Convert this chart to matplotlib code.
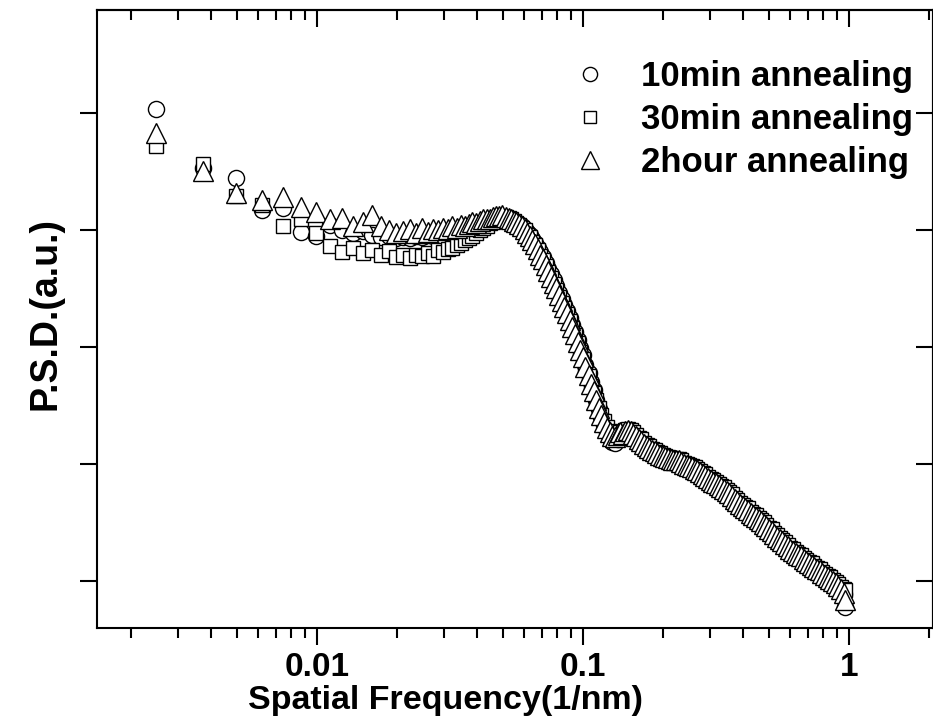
import matplotlib
matplotlib.use("Agg")
import matplotlib.pyplot as plt
import numpy as np
from matplotlib.ticker import FixedLocator, NullLocator, NullFormatter, LogLocator

plt.rcParams['font.family'] = ['Liberation Sans', 'DejaVu Sans']
plt.rcParams['font.weight'] = 'bold'

# ---------------- data ----------------
# spatial frequency (1/nm)
freq = [
    # low-frequency points
    0.00248, 0.00372, 0.00496, 0.00620, 0.00744, 0.00868, 0.00992, 0.01116, 0.01240, 0.01364,
    0.01488, 0.01612, 0.01736, 0.01860, 0.01984, 0.02108, 0.02232, 0.02356, 0.02480, 0.02604,
    0.02728, 0.02852, 0.02976, 0.03100, 0.03224, 0.03348, 0.03472, 0.03596, 0.03720, 0.03844,
    0.03968, 0.04092, 0.04216, 0.04340, 0.04464, 0.04588, 0.04712, 0.04836, 0.04960,
    # peak and steep decay
    0.0513, 0.0525, 0.0537, 0.0550, 0.0562, 0.0575, 0.0589, 0.0603, 0.0617, 0.0631,
    0.0646, 0.0661, 0.0676, 0.0692, 0.0708, 0.0724, 0.0741, 0.0759, 0.0776, 0.0794,
    0.0813, 0.0832, 0.0851, 0.0871, 0.0891, 0.0912, 0.0933, 0.0955, 0.0977, 0.1000,
    0.102, 0.105, 0.107, 0.110, 0.112, 0.115, 0.117, 0.120, 0.123, 0.126,
    0.129, 0.132, 0.135, 0.138,
    # high-frequency tail
    0.1413, 0.1445, 0.1479, 0.1514, 0.1549, 0.1585, 0.1622, 0.1660, 0.1698, 0.1738,
    0.1778, 0.1820, 0.1862, 0.1905, 0.1950, 0.1995, 0.2042, 0.2089, 0.2138, 0.2188,
    0.2239, 0.2291, 0.2344, 0.2399, 0.2455, 0.2512, 0.2570, 0.2630, 0.2692, 0.2754,
    0.2818, 0.2884, 0.2951, 0.3020, 0.3090, 0.3162, 0.3236, 0.3311, 0.3388, 0.3467,
    0.3548, 0.3631, 0.3715, 0.3802, 0.3890, 0.3981, 0.4074, 0.4169, 0.4266, 0.4365,
    0.4467, 0.4571, 0.4677, 0.4786, 0.4898, 0.5012, 0.5129, 0.5248, 0.5370, 0.5495,
    0.5623, 0.5754, 0.5888, 0.6026, 0.6166, 0.6310, 0.6457, 0.6607, 0.6761, 0.6918,
    0.7079, 0.7244, 0.7413, 0.7586, 0.7762, 0.7943, 0.8128, 0.8318, 0.8511, 0.8710,
    0.8913, 0.9120, 0.9333, 0.9550, 0.9700,
]

# log10 of P.S.D. (a.u.)
log_psd_10min = [
    5.03, 4.53, 4.44, 4.17, 4.19, 3.98, 3.95, 4.04, 4.00, 3.97,
    3.99, 3.96, 3.94, 3.95, 3.93, 3.94, 3.93, 3.95, 3.94, 3.96,
    3.95, 3.97, 3.95, 3.97, 3.97, 3.98, 3.97, 3.99, 4.00, 3.99,
    4.02, 4.03, 4.03, 4.05, 4.07, 4.08, 4.09, 4.09, 4.09,
    4.09, 4.09, 4.08, 4.08, 4.06, 4.05, 4.03, 4.01, 3.98, 3.96,
    3.92, 3.89, 3.85, 3.81, 3.77, 3.72, 3.67, 3.62, 3.57, 3.52,
    3.46, 3.41, 3.36, 3.31, 3.25, 3.19, 3.13, 3.06, 2.99, 2.93,
    2.85, 2.78, 2.70, 2.63, 2.55, 2.47, 2.40, 2.33, 2.27, 2.22,
    2.19, 2.18, 2.21, 2.24,
    2.24, 2.26, 2.28, 2.27, 2.25, 2.23, 2.20, 2.19, 2.16, 2.14,
    2.13, 2.11, 2.10, 2.08, 2.08, 2.07, 2.05, 2.04, 2.03, 2.03,
    2.02, 2.02, 2.01, 2.00, 1.98, 1.97, 1.96, 1.95, 1.94, 1.92,
    1.90, 1.89, 1.87, 1.86, 1.84, 1.83, 1.81, 1.80, 1.78, 1.76,
    1.74, 1.72, 1.70, 1.67, 1.65, 1.63, 1.62, 1.60, 1.57, 1.56,
    1.54, 1.52, 1.50, 1.48, 1.46, 1.44, 1.42, 1.40, 1.37, 1.35,
    1.33, 1.31, 1.29, 1.27, 1.25, 1.23, 1.22, 1.20, 1.18, 1.16,
    1.15, 1.13, 1.11, 1.10, 1.08, 1.06, 1.04, 1.03, 1.01, 0.99,
    0.97, 0.95, 0.92, 0.89, 0.78,
]

log_psd_30min = [
    4.72, 4.56, 4.29, 4.21, 4.03, 4.09, 3.97, 3.86, 3.81, 3.85,
    3.80, 3.83, 3.79, 3.82, 3.77, 3.79, 3.76, 3.79, 3.78, 3.80,
    3.78, 3.83, 3.81, 3.84, 3.85, 3.87, 3.89, 3.91, 3.93, 3.95,
    3.97, 4.00, 4.02, 4.03, 4.06, 4.08, 4.09, 4.10, 4.11,
    4.11, 4.10, 4.09, 4.08, 4.06, 4.04, 4.02, 4.00, 3.96, 3.94,
    3.90, 3.87, 3.83, 3.78, 3.74, 3.69, 3.64, 3.59, 3.54, 3.49,
    3.43, 3.38, 3.33, 3.28, 3.22, 3.16, 3.10, 3.03, 2.96, 2.90,
    2.82, 2.75, 2.67, 2.61, 2.55, 2.48, 2.42, 2.37, 2.32, 2.28,
    2.24, 2.23, 2.25, 2.27,
    2.27, 2.29, 2.30, 2.29, 2.27, 2.25, 2.22, 2.21, 2.18, 2.16,
    2.15, 2.13, 2.12, 2.10, 2.09, 2.08, 2.07, 2.06, 2.05, 2.04,
    2.04, 2.04, 2.03, 2.01, 2.00, 1.99, 1.98, 1.97, 1.96, 1.94,
    1.92, 1.91, 1.89, 1.87, 1.86, 1.85, 1.83, 1.81, 1.80, 1.78,
    1.76, 1.74, 1.71, 1.69, 1.67, 1.65, 1.63, 1.62, 1.59, 1.57,
    1.56, 1.54, 1.52, 1.50, 1.48, 1.45, 1.44, 1.41, 1.39, 1.37,
    1.35, 1.33, 1.31, 1.28, 1.27, 1.25, 1.23, 1.22, 1.20, 1.18,
    1.16, 1.15, 1.13, 1.11, 1.10, 1.08, 1.06, 1.04, 1.03, 1.01,
    0.99, 0.97, 0.95, 0.93, 0.92,
]

log_psd_2hour = [
    4.83, 4.50, 4.32, 4.26, 4.28, 4.20, 4.15, 4.09, 4.10, 4.03,
    4.07, 4.13, 4.03, 4.00, 3.97, 3.99, 4.01, 3.97, 4.02, 3.98,
    4.01, 4.00, 4.02, 4.01, 4.03, 4.02, 4.04, 4.03, 4.05, 4.07,
    4.06, 4.08, 4.09, 4.09, 4.09, 4.11, 4.12, 4.12, 4.13,
    4.11, 4.10, 4.09, 4.08, 4.07, 4.05, 4.03, 4.01, 3.97, 3.95,
    3.91, 3.88, 3.84, 3.79, 3.75, 3.70, 3.65, 3.60, 3.55, 3.50,
    3.44, 3.39, 3.34, 3.29, 3.23, 3.17, 3.11, 3.04, 2.97, 2.91,
    2.83, 2.76, 2.68, 2.62, 2.55, 2.48, 2.42, 2.36, 2.31, 2.27,
    2.24, 2.23, 2.25, 2.27,
    2.26, 2.28, 2.29, 2.28, 2.26, 2.24, 2.21, 2.20, 2.17, 2.15,
    2.14, 2.12, 2.11, 2.09, 2.08, 2.07, 2.06, 2.05, 2.04, 2.03,
    2.03, 2.03, 2.02, 2.00, 1.99, 1.98, 1.97, 1.96, 1.95, 1.93,
    1.91, 1.90, 1.88, 1.86, 1.85, 1.84, 1.82, 1.80, 1.79, 1.77,
    1.75, 1.73, 1.70, 1.68, 1.66, 1.64, 1.62, 1.61, 1.58, 1.56,
    1.55, 1.53, 1.51, 1.49, 1.47, 1.44, 1.43, 1.40, 1.38, 1.36,
    1.34, 1.32, 1.30, 1.27, 1.26, 1.24, 1.22, 1.21, 1.19, 1.17,
    1.15, 1.14, 1.12, 1.10, 1.09, 1.07, 1.05, 1.03, 1.02, 1.00,
    0.98, 0.96, 0.93, 0.90, 0.84,
]

series_labels = ["10min annealing", "30min annealing", "2hour annealing"]
xtick_values = [0.01, 0.1, 1]
xtick_labels = ["0.01", "0.1", "1"]
ytick_values = [1e1, 1e2, 1e3, 1e4, 1e5]

# ---------------- figure ----------------
W, H = 933, 727
fig = plt.figure(figsize=(W / 100, H / 100), dpi=100)
L, R, T, B = 97, 933, 10, 628
ax = fig.add_axes([L / W, 1 - B / H, (R - L) / W, (B - T) / H])

x = np.asarray(freq)
styles = [("o", 11.6), ("s", 10.6), ("^", 14.0)]
for logs, lab, (mk, ms) in zip([log_psd_10min, log_psd_30min, log_psd_2hour], series_labels, styles):
    ax.plot(x, 10 ** np.asarray(logs), ls="none", marker=mk, ms=ms,
            mfc="white", mec="black", mew=1.0, label=lab)

ax.set_xscale("log")
ax.set_yscale("log")
ax.set_xlim(0.00149, 2.07)
ax.set_ylim(10 ** 0.598, 10 ** 5.88)

ax.set_xticks(xtick_values)
ax.set_xticklabels(xtick_labels)
ax.xaxis.set_minor_locator(LogLocator(base=10, subs=np.arange(2, 10), numticks=30))
ax.xaxis.set_minor_formatter(NullFormatter())
ax.yaxis.set_major_locator(FixedLocator(ytick_values))
ax.yaxis.set_minor_locator(NullLocator())
ax.yaxis.set_major_formatter(NullFormatter())

ax.tick_params(axis="x", which="major", direction="out", length=12, width=1.5,
               labelsize=24, pad=5, top=False)
ax.tick_params(axis="x", which="minor", direction="out", length=7, width=1.5, top=False)
ax.tick_params(axis="y", which="major", direction="out", length=12, width=1.5, right=False)

for s in ax.spines.values():
    s.set_linewidth(1.5)

# top axis: inward ticks, no labels
secx = ax.secondary_xaxis("top")
secx.set_xticks(xtick_values)
secx.xaxis.set_minor_locator(LogLocator(base=10, subs=np.arange(2, 10), numticks=30))
secx.xaxis.set_major_formatter(NullFormatter())
secx.xaxis.set_minor_formatter(NullFormatter())
secx.tick_params(axis="x", which="major", direction="in", length=12, width=1.5)
secx.tick_params(axis="x", which="minor", direction="in", length=7, width=1.5)
secx.spines["top"].set_linewidth(1.5)

# right axis: inward ticks, no labels
secy = ax.secondary_yaxis("right")
secy.yaxis.set_major_locator(FixedLocator(ytick_values))
secy.yaxis.set_minor_locator(NullLocator())
secy.yaxis.set_major_formatter(NullFormatter())
secy.tick_params(axis="y", which="major", direction="in", length=12, width=1.5)
secy.spines["right"].set_linewidth(1.5)

ax.set_xlabel("Spatial Frequency(1/nm)", fontsize=24.5, fontweight="bold", labelpad=2)
ax.xaxis.label.set_x((446 - L) / (R - L))
ax.set_ylabel("P.S.D.(a.u.)", fontsize=27, fontweight="bold")
ax.yaxis.set_label_coords(-0.040, (B - 314) / (B - T))

ax.legend(loc="upper left", bbox_to_anchor=(572.6 / W, 1 - 60 / H), bbox_transform=fig.transFigure,
          frameon=False, prop={"size": 25, "weight": "bold"}, handlelength=1.0,
          handletextpad=0.97, labelspacing=0.29, borderpad=0, borderaxespad=0, markerscale=0.88)

fig.savefig("out.png", dpi=100)
